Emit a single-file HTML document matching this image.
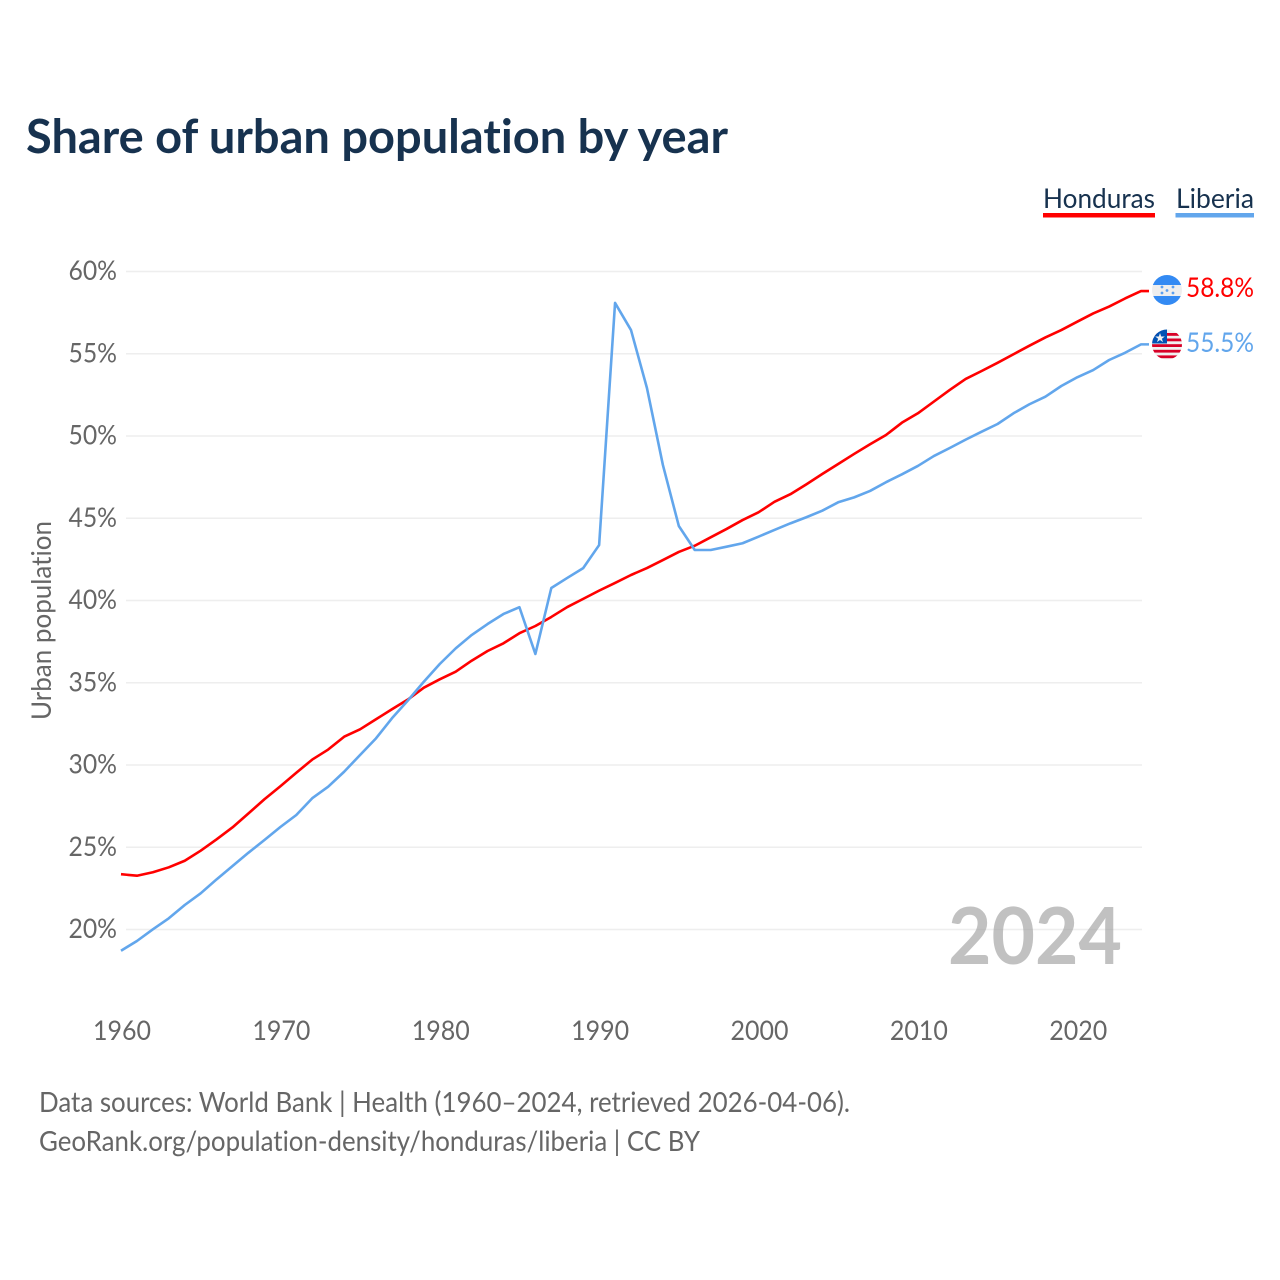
<!DOCTYPE html>
<html>
<head>
<meta charset="utf-8">
<title>Share of urban population by year</title>
<style>
html,body{margin:0;padding:0;background:#fff;width:1280px;height:1280px;overflow:hidden}
svg{display:block}
text{font-family:"Lato","Carlito","Liberation Sans",sans-serif;font-variant-ligatures:none;font-feature-settings:"liga" 0,"clig" 0}
</style>
</head>
<body>
<svg id="chart" width="1280" height="1280" viewBox="0 0 1280 1280" xmlns="http://www.w3.org/2000/svg">
  <defs>
    <clipPath id="hn-clip"><circle cx="1167" cy="290" r="15"/></clipPath>
    <clipPath id="lr-clip"><circle cx="1167" cy="344.5" r="15"/></clipPath>
  </defs>
  <text x="26" y="153" font-size="47" font-weight="700" fill="#17324f" textLength="702" lengthAdjust="spacingAndGlyphs">Share of urban population by year</text>

  <text x="1043" y="208" font-size="27" fill="#17324f" textLength="112" lengthAdjust="spacingAndGlyphs">Honduras</text>
  <rect x="1043" y="213" width="112" height="4.5" fill="#ff0000"/>
  <text x="1176" y="208" font-size="27" fill="#17324f" textLength="78" lengthAdjust="spacingAndGlyphs">Liberia</text>
  <rect x="1175.5" y="213" width="78.5" height="4.5" fill="#62a6ec"/>

  <g id="grid"></g>
  <g id="yticks"></g>
  <g id="xticks"></g>

  <text transform="translate(51,720) rotate(-90)" font-size="27" fill="#666666" textLength="199" lengthAdjust="spacingAndGlyphs">Urban population</text>

  <text x="948" y="964" font-size="79" font-weight="700" fill="#a0a0a0" fill-opacity="0.65" textLength="174" lengthAdjust="spacingAndGlyphs">2024</text>

  <g id="series"></g>

  <g clip-path="url(#hn-clip)">
    <rect x="1152" y="275" width="30" height="30" fill="#eeeeee"/>
    <rect x="1152" y="275" width="30" height="10" fill="#338af3"/>
    <rect x="1152" y="296" width="30" height="9" fill="#338af3"/>
    <circle cx="1162" cy="287" r="1.4" fill="#5a9ff0"/>
    <circle cx="1173" cy="287" r="1.4" fill="#5a9ff0"/>
    <circle cx="1167" cy="290.5" r="1.4" fill="#5a9ff0"/>
    <circle cx="1162" cy="293" r="1.4" fill="#5a9ff0"/>
    <circle cx="1173" cy="293" r="1.4" fill="#5a9ff0"/>
  </g>
  <g clip-path="url(#lr-clip)">
    <rect x="1152" y="329" width="30" height="31" fill="#f0f0f0"/>
    <rect x="1152" y="333" width="30" height="2.8" fill="#d80027"/>
    <rect x="1152" y="338.5" width="30" height="2.8" fill="#d80027"/>
    <rect x="1152" y="344.2" width="30" height="2.8" fill="#d80027"/>
    <rect x="1152" y="349.8" width="30" height="2.8" fill="#d80027"/>
    <rect x="1152" y="355.4" width="30" height="2.8" fill="#d80027"/>
    <rect x="1152" y="329" width="15" height="14.5" fill="#0052b4"/>
    <polygon points="1160,333 1161.2,336.5 1164.8,336.5 1161.9,338.7 1163,342.1 1160,340 1157,342.1 1158.1,338.7 1155.2,336.5 1158.8,336.5" fill="#f0f0f0"/>
  </g>

  <text x="1186" y="297" font-size="27" fill="#ff0000" textLength="68" lengthAdjust="spacingAndGlyphs">58.8%</text>
  <text x="1186" y="352" font-size="27" fill="#62a6ec" textLength="68" lengthAdjust="spacingAndGlyphs">55.5%</text>

  <text x="39" y="1112" font-size="28" fill="#666666" textLength="811" lengthAdjust="spacingAndGlyphs">Data sources: World Bank | Health (1960–2024, retrieved 2026-04-06).</text>
  <text x="39" y="1151" font-size="28" fill="#666666" textLength="661" lengthAdjust="spacingAndGlyphs">GeoRank.org/population-density/honduras/liberia | CC BY</text>
</svg>
<script>
var startYear = 1960;
var yTickValues = [20, 25, 30, 35, 40, 45, 50, 55, 60];
var xTickYears = [1960, 1970, 1980, 1990, 2000, 2010, 2020];
var hondurasValues = [
  23.36, 23.27, 23.48, 23.78, 24.18, 24.79, 25.48, 26.21, 27.06, 27.92,
  28.71, 29.53, 30.33, 30.94, 31.72, 32.17, 32.78, 33.39, 33.98, 34.70,
  35.21, 35.67, 36.34, 36.93, 37.40, 38.01, 38.45, 39.00, 39.60, 40.10,
  40.60, 41.07, 41.55, 41.97, 42.46, 42.95, 43.33, 43.84, 44.35, 44.89,
  45.36, 46.00, 46.46, 47.06, 47.69, 48.30, 48.91, 49.50, 50.06, 50.81,
  51.38, 52.09, 52.80, 53.47, 53.95, 54.45, 54.97, 55.49, 55.99, 56.44,
  56.95, 57.45, 57.87, 58.36, 58.81
];
var liberiaValues = [
  18.71, 19.30, 20.01, 20.68, 21.49, 22.20, 23.05, 23.86, 24.67, 25.44,
  26.23, 26.96, 27.98, 28.68, 29.59, 30.61, 31.62, 32.84, 33.92, 35.06,
  36.14, 37.09, 37.90, 38.57, 39.18, 39.59, 36.75, 40.76, 41.37, 41.97,
  43.37, 58.09, 56.44, 52.92, 48.24, 44.53, 43.07, 43.07, 43.27, 43.48,
  43.88, 44.29, 44.69, 45.06, 45.46, 45.97, 46.27, 46.66, 47.19, 47.67,
  48.18, 48.78, 49.27, 49.78, 50.26, 50.73, 51.38, 51.93, 52.39, 53.04,
  53.57, 54.01, 54.62, 55.06, 55.57
];

var NS = 'http://www.w3.org/2000/svg';
function xScale(year) { return 121 + (year - 1960) * (1141 - 121) / 64; }
function yScale(v) { return 929.5 - (v - 20) * (929.5 - 271.5) / 40; }

var grid = document.getElementById('grid');
var yticks = document.getElementById('yticks');
var xticks = document.getElementById('xticks');
var seriesGroup = document.getElementById('series');

yTickValues.forEach(function (v) {
  var line = document.createElementNS(NS, 'line');
  
  
  line.setAttribute('x1', 126);
  line.setAttribute('x2', 1142);
  line.setAttribute('y1', yScale(v));
  line.setAttribute('y2', yScale(v));
  line.setAttribute('stroke', '#eeeeee');
  line.setAttribute('stroke-width', 1.6);
  grid.appendChild(line);

  var t = document.createElementNS(NS, 'text');
  
  
  t.setAttribute('x', 68.5);
  t.setAttribute('y', yScale(v) + 8.5);
  t.setAttribute('font-size', 27);
  t.setAttribute('fill', '#666666');
  t.setAttribute('textLength', 48.5);
  t.setAttribute('lengthAdjust', 'spacingAndGlyphs');
  t.textContent = v + '%';
  yticks.appendChild(t);
});

xTickYears.forEach(function (year) {
  var t = document.createElementNS(NS, 'text');
  
  
  t.setAttribute('x', xScale(year) - 28);
  t.setAttribute('y', 1040);
  t.setAttribute('font-size', 27);
  t.setAttribute('fill', '#666666');
  t.setAttribute('textLength', 58);
  t.setAttribute('lengthAdjust', 'spacingAndGlyphs');
  t.textContent = year;
  xticks.appendChild(t);
});

function buildPath(values) {
  var d = '';
  values.forEach(function (v, i) {
    d += (i ? 'L' : 'M') + xScale(startYear + i).toFixed(2) + ' ' + yScale(v).toFixed(2) + ' ';
  });
  d += 'h8';
  return d;
}

var libPath = document.createElementNS(NS, 'path');


libPath.setAttribute('d', buildPath(liberiaValues));
libPath.setAttribute('fill', 'none');
libPath.setAttribute('stroke', '#62a6ec');
libPath.setAttribute('stroke-width', 2.6);
libPath.setAttribute('stroke-linejoin', 'round');
seriesGroup.appendChild(libPath);

var honPath = document.createElementNS(NS, 'path');


honPath.setAttribute('d', buildPath(hondurasValues));
honPath.setAttribute('fill', 'none');
honPath.setAttribute('stroke', '#ff0000');
honPath.setAttribute('stroke-width', 2.6);
honPath.setAttribute('stroke-linejoin', 'round');
seriesGroup.insertBefore(honPath, libPath);
</script>
</body>
</html>
